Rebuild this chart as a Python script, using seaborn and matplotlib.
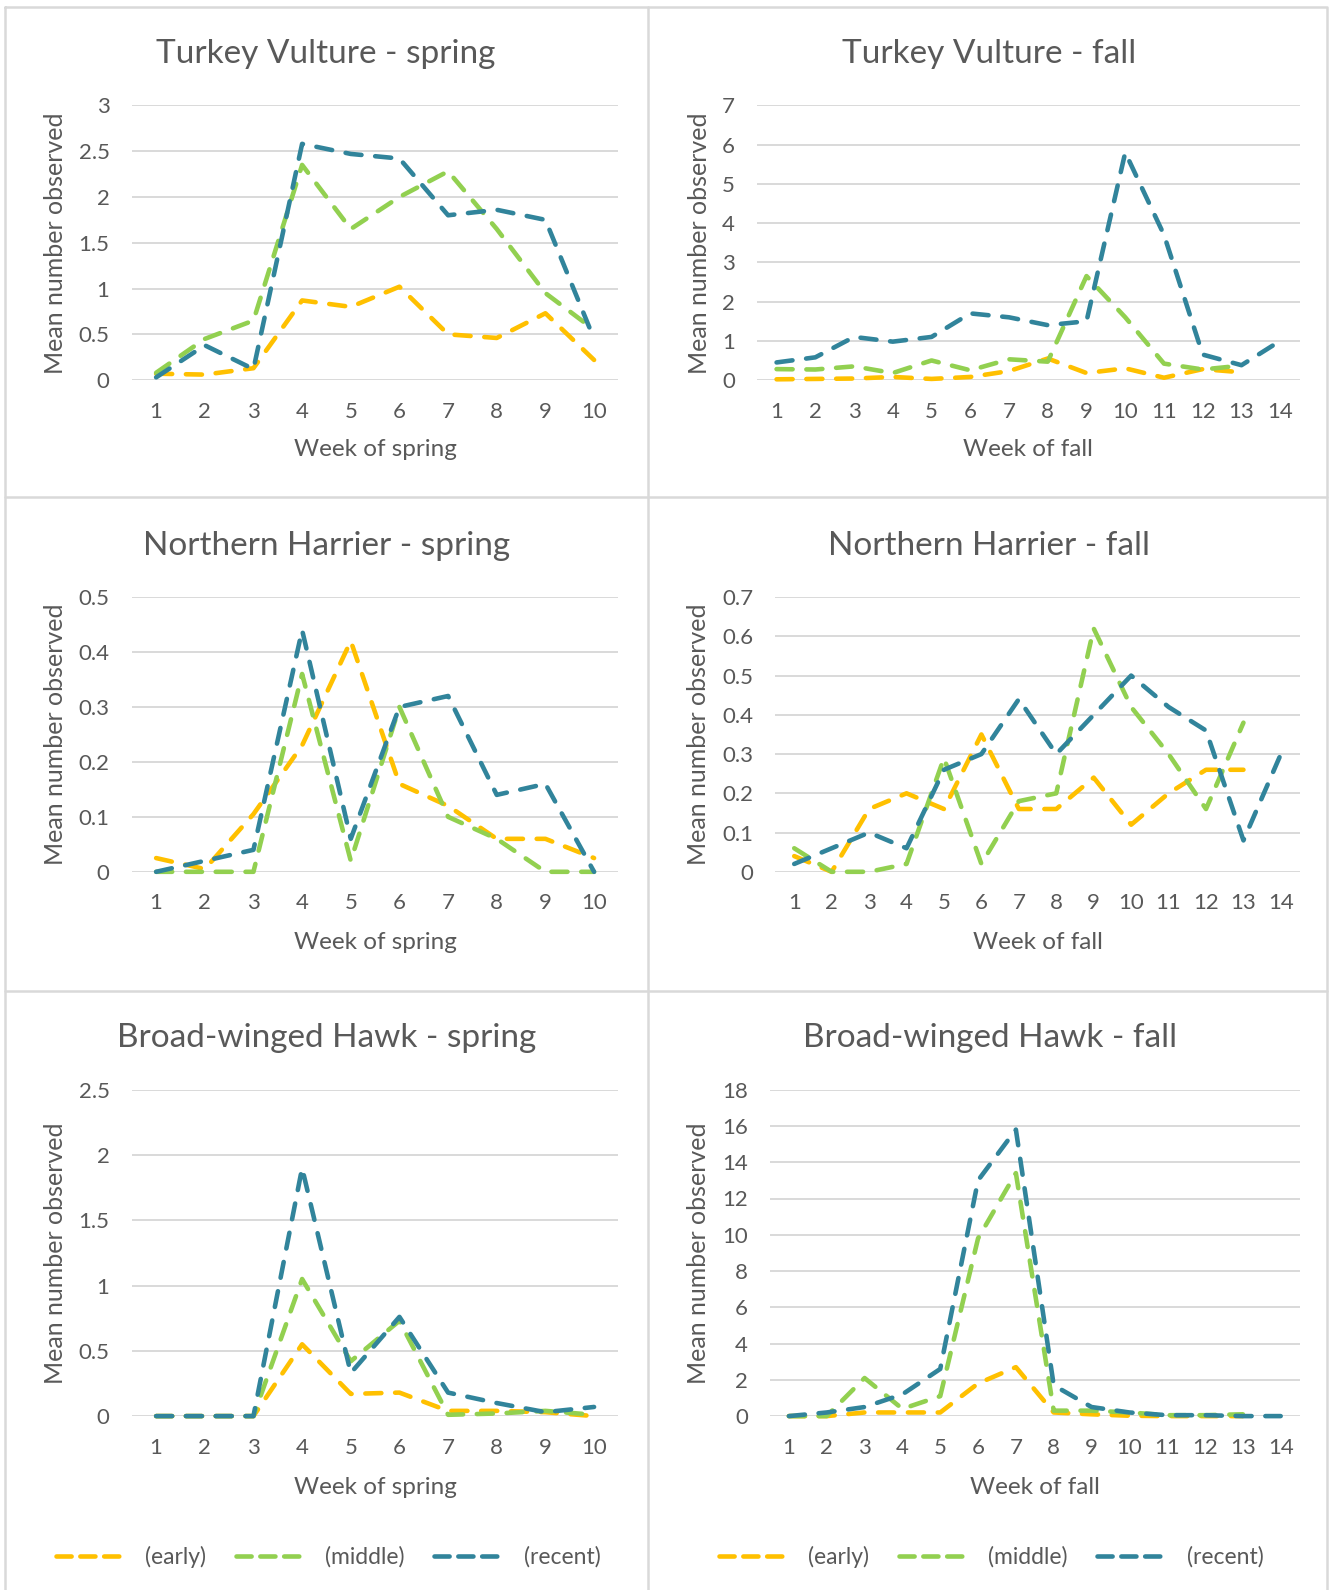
import numpy as np
import pandas as pd
import matplotlib
matplotlib.use("Agg")
import matplotlib.pyplot as plt
from matplotlib.lines import Line2D
import seaborn as sns

# ---------------- data ----------------
periods = ["(early)", "(middle)", "(recent)"]
colors = ["#FFC000", "#92D050", "#31849B"]

spring_weeks = list(range(1, 11))
fall_weeks = list(range(1, 15))

tv_spring_early = [0.07, 0.06, 0.13, 0.87, 0.80, 1.02, 0.50, 0.46, 0.73, 0.22]
tv_spring_middle = [0.08, 0.45, 0.65, 2.35, 1.65, 2.00, 2.28, 1.65, 0.95, 0.55]
tv_spring_recent = [0.03, 0.38, 0.12, 2.58, 2.47, 2.42, 1.80, 1.86, 1.75, 0.45]

tv_fall_early = [0.02, 0.03, 0.04, 0.08, 0.03, 0.08, 0.23, 0.55, 0.18, 0.30, 0.06, 0.28, 0.20]
tv_fall_middle = [0.28, 0.27, 0.35, 0.18, 0.50, 0.25, 0.53, 0.47, 2.65, 1.60, 0.42, 0.27, 0.37]
tv_fall_recent = [0.45, 0.58, 1.10, 0.98, 1.10, 1.70, 1.60, 1.40, 1.50, 5.80, 3.70, 0.65, 0.38, 1.00]

nh_spring_early = [0.025, 0.005, 0.105, 0.23, 0.42, 0.16, 0.12, 0.06, 0.06, 0.025]
nh_spring_middle = [0.0, 0.0, 0.0, 0.36, 0.02, 0.30, 0.10, 0.06, 0.0, 0.0]
nh_spring_recent = [0.0, 0.02, 0.04, 0.44, 0.06, 0.30, 0.32, 0.14, 0.16, 0.0]

nh_fall_early = [0.04, 0.0, 0.16, 0.20, 0.16, 0.35, 0.16, 0.16, 0.24, 0.12, 0.20, 0.26, 0.26]
nh_fall_middle = [0.06, 0.0, 0.0, 0.02, 0.29, 0.02, 0.18, 0.20, 0.62, 0.42, 0.30, 0.16, 0.38]
nh_fall_recent = [0.02, 0.06, 0.10, 0.06, 0.26, 0.30, 0.44, 0.30, 0.40, 0.50, 0.42, 0.36, 0.08, 0.30]

bw_spring_early = [0.0, 0.0, 0.0, 0.55, 0.17, 0.18, 0.04, 0.04, 0.03, 0.0]
bw_spring_middle = [0.0, 0.0, 0.0, 1.05, 0.42, 0.73, 0.01, 0.02, 0.04, 0.01]
bw_spring_recent = [0.0, 0.0, 0.0, 1.90, 0.33, 0.76, 0.18, 0.10, 0.03, 0.07]

bw_fall_early = [0.0, 0.0, 0.2, 0.2, 0.2, 1.8, 2.7, 0.2, 0.1, 0.02, 0.0, 0.0, 0.0]
bw_fall_middle = [0.0, 0.0, 2.1, 0.4, 1.1, 9.8, 13.4, 0.3, 0.3, 0.2, 0.05, 0.05, 0.1]
bw_fall_recent = [0.0, 0.2, 0.5, 1.2, 2.6, 13.0, 15.8, 1.7, 0.5, 0.2, 0.05, 0.05, 0.0, 0.0]

titles = ["Turkey Vulture - spring", "Turkey Vulture - fall",
          "Northern Harrier - spring", "Northern Harrier - fall",
          "Broad-winged Hawk - spring", "Broad-winged Hawk - fall"]
xlabels = ["Week of spring", "Week of fall"] * 3
ylabel = "Mean number observed"
ymaxes = [3, 7, 0.5, 0.7, 2.5, 18]
ysteps = [0.5, 1, 0.1, 0.1, 0.5, 2]

panel_series = [
    (tv_spring_early, tv_spring_middle, tv_spring_recent),
    (tv_fall_early, tv_fall_middle, tv_fall_recent),
    (nh_spring_early, nh_spring_middle, nh_spring_recent),
    (nh_fall_early, nh_fall_middle, nh_fall_recent),
    (bw_spring_early, bw_spring_middle, bw_spring_recent),
    (bw_fall_early, bw_fall_middle, bw_fall_recent),
]

# ---------------- style ----------------
sns.set_style("white")
plt.rcParams["font.family"] = ["Lato", "DejaVu Sans"]
TXT = "#595959"
GRID = "#D9D9D9"

W, H = 1331, 1590
fig = plt.figure(figsize=(W / 100, H / 100), dpi=100)

def rect(x0, x1, ytop, ybot):
    return [x0 / W, 1 - ybot / H, (x1 - x0) / W, (ybot - ytop) / H]

# axes rectangles in pixel coordinates (left, right, top, bottom)
boxes = [
    (131.8, 618.4, 105.4, 380.1),
    (757.2, 1299.6, 105.4, 380.1),
    (131.8, 618.4, 597.1, 871.8),
    (775.5, 1299.6, 597.1, 871.8),
    (131.8, 618.4, 1089.7, 1416.1),
    (770.0, 1299.6, 1089.7, 1416.1),
]
title_pos = [(326, 54), (989, 54), (327, 546), (989, 546), (327, 1038), (990, 1038)]
ylab_x = [56, 699, 56, 699, 56, 699]
xlab_y = [450, 450, 942, 942, 1487, 1487]

LW = 3.3
DASH = (0, (3.5, 3.0))
LEG_DASH = (0, (3.3, 1.9))

for i in range(6):
    x0, x1, yt, yb = boxes[i]
    ax = fig.add_axes(rect(x0, x1, yt, yb))
    weeks_all = spring_weeks if i % 2 == 0 else fall_weeks
    rows = []
    for p, vals in zip(periods, panel_series[i]):
        for w, v in zip(weeks_all, vals):
            rows.append({"week": w, "value": v, "period": p})
    df = pd.DataFrame(rows)
    sns.lineplot(data=df, x="week", y="value", hue="period", hue_order=periods,
                 palette=colors, linewidth=LW, linestyle=DASH,
                 dash_capstyle="round", legend=False, ax=ax, zorder=3)
    n = len(weeks_all)
    ax.set_xlim(0.5, n + 0.5)
    ax.set_ylim(0, ymaxes[i])
    ax.set_xticks(weeks_all)
    ax.set_xticklabels([str(w) for w in weeks_all])
    yt_vals = np.round(np.arange(0, ymaxes[i] + ysteps[i] / 2, ysteps[i]), 3)
    ax.set_yticks(yt_vals)
    ax.set_yticklabels([f"{v:g}" for v in yt_vals])
    ax.grid(axis="y", color=GRID, linewidth=1.4, zorder=0)
    ax.grid(axis="x", visible=False)
    ax.set_axisbelow(True)
    for s in ax.spines.values():
        s.set_visible(False)
    ax.tick_params(axis="both", length=0, labelsize=16, labelcolor=TXT)
    ax.tick_params(axis="x", pad=15.5)
    ax.tick_params(axis="y", pad=16)
    for ln in ax.lines:
        ln.set_clip_on(False)
    # labels
    ax.set_xlabel(xlabels[i], fontsize=17.5, color=TXT, va="center")
    ax.xaxis.set_label_coords(0.5, (yb - xlab_y[i]) / (yb - yt))
    ax.set_ylabel(ylabel, fontsize=18, color=TXT, va="center")
    ax.yaxis.set_label_coords((ylab_x[i] - x0) / (x1 - x0), 0.5)
    tx, ty = title_pos[i]
    fig.text(tx / W, 1 - ty / H, titles[i], fontsize=24, color=TXT,
             ha="center", va="center")

# panel borders
def fline(xs, ys):
    fig.add_artist(Line2D([x / W for x in xs], [1 - y / H for y in ys],
                          color=GRID, linewidth=1.8, zorder=0))

fline([5, 1327, 1327, 5, 5], [7, 7, 1600, 1600, 7])
fline([648, 648], [7, 1600])
fline([5, 1327], [497, 497])
fline([5, 1327], [991, 991])

# legends
handles = [Line2D([], [], color=c, linewidth=LW, linestyle=LEG_DASH,
                  dash_capstyle="round") for c in colors]
for cx in (328, 991):
    leg = fig.legend(handles, periods, loc="center",
                     bbox_to_anchor=(cx / W, 1 - 1557 / H), ncol=3,
                     frameon=False, fontsize=16.5, handlelength=2.75,
                     handletextpad=1.15, columnspacing=1.3)
    for t in leg.get_texts():
        t.set_color(TXT)

fig.savefig("out.png", dpi=100, facecolor="white")
